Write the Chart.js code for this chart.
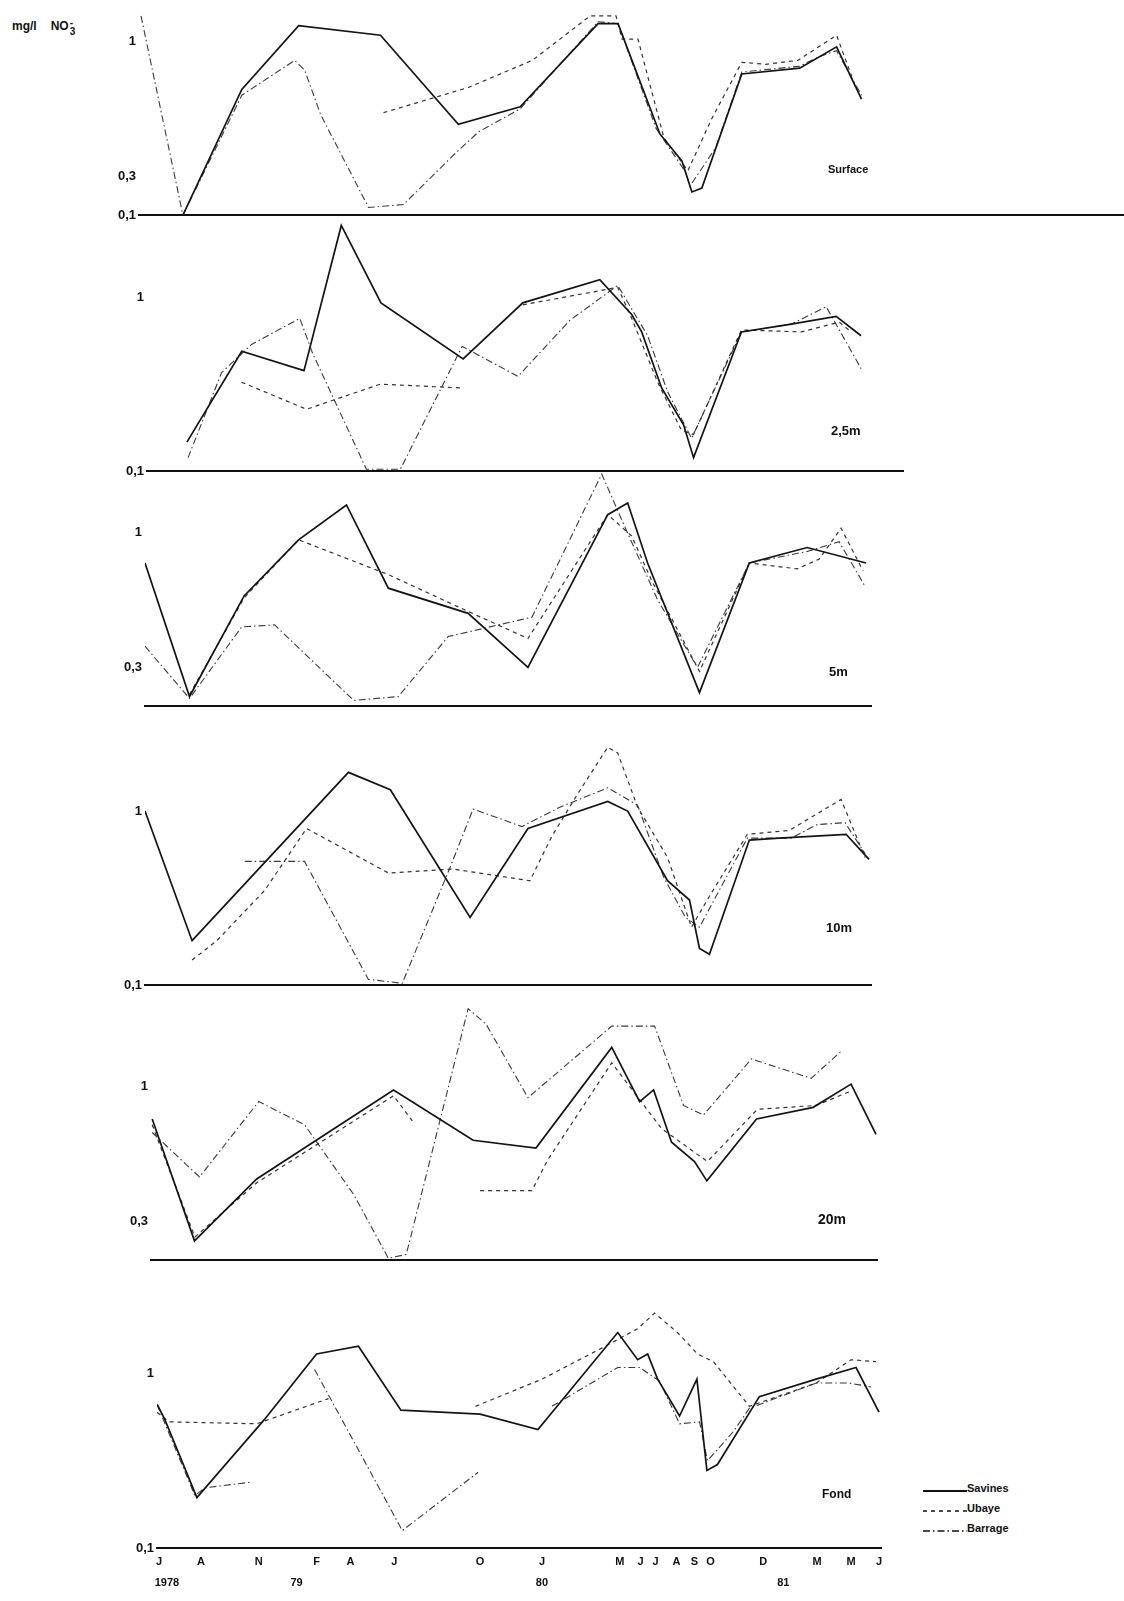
<!DOCTYPE html>
<html lang="fr">
<head>
  <meta charset="UTF-8">
  <title>Nitrates - Savines, Ubaye, Barrage</title>
  <script src="https://cdn.jsdelivr.net/npm/chart.js"></script>
  <style>
    body {
      margin: 0;
      width: 1124px;
      height: 1601px;
      position: relative;
      overflow: hidden;
      background: #ffffff;
      color: #111;
      font-family: "Liberation Sans", Arial, sans-serif;
    }

    canvas.panel {
      position: absolute;
    }

    .unit {
      position: absolute;
      left: 12px;
      top: 18px;
      font-size: 12px;
      font-weight: bold;
      white-space: nowrap;
    }

    .unit .no {
      margin-left: 14px;
    }

    .unit .ion {
      display: inline-flex;
      flex-direction: column;
      vertical-align: middle;
      font-size: 10px;
      line-height: 9px;
      margin-left: 1px;
    }

    .depth {
      position: absolute;
      font-weight: bold;
      white-space: nowrap;
    }

    .legend {
      position: absolute;
      left: 923px;
      top: 1478px;
      font-size: 11px;
      font-weight: bold;
    }

    .legend div {
      display: flex;
      align-items: center;
      height: 20px;
    }
  </style>
</head>
<body>
  <div class="unit">mg/l<span class="no">NO</span><span class="ion"><span>-</span><span>3</span></span></div>
  <div class="legend" id="legend"></div>

  <script>
    // NO3 (mg/l) per sampling date, x = months since January 1978
    const surfaceSavines = [[6.1, 0.10], [9.05, 0.75], [11.9, 1.08], [16.0, 1.03], [19.9, 0.57], [23.0, 0.66], [26.9, 1.09], [27.9, 1.09], [30.0, 0.52], [31.1, 0.38], [31.6, 0.22], [32.1, 0.24], [34.1, 0.83], [37.0, 0.86], [38.85, 0.97], [40.1, 0.70]];
    const surfaceUbaye = [[16.15, 0.63], [20.4, 0.76], [23.6, 0.90], [26.5, 1.13], [27.8, 1.13], [28.1, 1.01], [28.9, 1.01], [30.2, 0.50], [31.4, 0.33], [32.6, 0.60], [34.1, 0.89], [35.3, 0.88], [36.9, 0.90], [38.85, 1.03], [39.6, 0.82]];
    const surfaceBarrage = [[4.0, 1.13], [6.1, 0.10], [9.05, 0.72], [11.7, 0.90], [12.2, 0.85], [13.0, 0.62], [15.4, 0.14], [17.15, 0.155], [19.65, 0.41], [20.9, 0.53], [23.0, 0.65], [26.9, 1.10], [27.9, 1.09], [29.8, 0.55], [31.3, 0.32], [31.5, 0.25], [32.8, 0.45], [34.1, 0.84], [37.0, 0.87], [38.0, 0.92], [38.85, 0.95], [40.1, 0.72]];

    const m25Savines = [[6.3, 0.25], [9.05, 0.72], [12.17, 0.62], [14.04, 1.37], [16.03, 0.97], [20.15, 0.68], [23.14, 0.97], [27.0, 1.09], [28.6, 0.91], [29.1, 0.82], [30.1, 0.53], [31.2, 0.34], [31.7, 0.17], [34.1, 0.82], [36.6, 0.86], [38.85, 0.90], [40.1, 0.80]];
    const m25Ubaye = [[9.04, 0.56], [12.3, 0.42], [14.0, 0.48], [16.0, 0.55], [20.1, 0.53], [21.6, null], [23.14, 0.96], [27.9, 1.05], [28.6, 0.89], [29.9, 0.56], [31.1, 0.31], [31.7, 0.29], [34.1, 0.83], [37.1, 0.82], [39.0, 0.87], [39.6, 0.82]];
    const m25Barrage = [[6.36, 0.17], [8.04, 0.61], [9.54, 0.755], [11.96, 0.89], [12.6, 0.71], [15.3, 0.11], [17.0, 0.11], [20.1, 0.745], [22.9, 0.59], [25.5, 0.88], [27.9, 1.06], [29.4, 0.80], [30.4, 0.51], [31.6, 0.27], [34.1, 0.82], [36.6, 0.86], [38.35, 0.95], [40.1, 0.63]];

    const m5Savines = [[4.2, 0.84], [6.43, 0.15], [9.17, 0.67], [11.9, 0.96], [14.3, 1.14], [16.4, 0.71], [20.4, 0.58], [23.4, 0.30], [27.4, 1.09], [28.4, 1.15], [29.4, 0.84], [32.0, 0.17], [34.5, 0.84], [37.4, 0.92], [40.35, 0.84]];
    const m5Ubaye = [[6.43, 0.16], [9.17, 0.66], [11.9, 0.96], [16.4, 0.78], [20.4, 0.59], [23.4, 0.45], [27.4, 1.09], [28.6, 0.98], [29.6, 0.75], [32.0, 0.28], [34.5, 0.84], [36.9, 0.81], [38.0, 0.86], [39.1, 1.02], [40.2, 0.80]];
    const m5Barrage = [[4.2, 0.41], [6.43, 0.14], [9.05, 0.51], [10.7, 0.52], [14.66, 0.13], [16.9, 0.15], [19.4, 0.46], [23.6, 0.56], [27.1, 1.30], [28.2, 1.04], [29.9, 0.65], [31.9, 0.30], [34.5, 0.84], [37.4, 0.90], [39.0, 0.95], [40.3, 0.72]];

    const m10Savines = [[4.2, 1.00], [6.56, 0.33], [14.4, 1.20], [16.5, 1.11], [20.5, 0.45], [23.4, 0.91], [27.4, 1.05], [28.4, 1.00], [30.4, 0.64], [31.5, 0.54], [32.0, 0.29], [32.5, 0.26], [34.5, 0.85], [36.0, 0.86], [39.35, 0.88], [40.5, 0.75]];
    const m10Ubaye = [[6.56, 0.23], [7.8, 0.33], [10.2, 0.59], [12.3, 0.91], [16.4, 0.68], [19.65, 0.70], [23.5, 0.64], [24.6, 0.87], [25.9, 1.09], [27.4, 1.33], [27.9, 1.30], [28.9, 1.02], [30.4, 0.76], [31.6, 0.40], [32.5, 0.56], [34.4, 0.88], [36.5, 0.90], [39.1, 1.06], [40.3, 0.76]];
    const m10Barrage = [[9.2, 0.74], [12.2, 0.74], [15.4, 0.13], [17.1, 0.11], [19.5, 0.71], [20.65, 1.01], [23.1, 0.92], [25.0, 1.02], [27.4, 1.12], [28.9, 1.03], [30.2, 0.66], [31.3, 0.45], [32.0, 0.40], [34.4, 0.86], [36.6, 0.86], [37.9, 0.93], [39.3, 0.94], [40.3, 0.78]];

    const m20Savines = [[4.56, 0.83], [6.68, 0.20], [9.8, 0.52], [16.66, 0.98], [20.65, 0.72], [23.8, 0.68], [27.6, 1.20], [29.0, 0.92], [29.7, 0.98], [30.6, 0.71], [31.75, 0.61], [32.37, 0.51], [34.86, 0.83], [37.7, 0.89], [39.6, 1.01], [40.85, 0.75]];
    const m20Ubaye = [[4.56, 0.80], [6.7, 0.22], [9.8, 0.50], [16.66, 0.95], [17.6, 0.82], [19.3, null], [21.0, 0.46], [23.6, 0.46], [24.4, 0.62], [27.6, 1.12], [30.1, 0.78], [32.4, 0.61], [34.9, 0.88], [37.85, 0.90], [39.5, 0.97]];
    const m20Barrage = [[4.56, 0.76], [6.93, 0.53], [9.9, 0.92], [12.2, 0.80], [14.66, 0.44], [16.4, 0.11], [17.3, 0.13], [20.4, 1.40], [21.3, 1.32], [23.4, 0.94], [27.6, 1.31], [29.75, 1.31], [31.2, 0.90], [32.2, 0.85], [34.6, 1.14], [37.6, 1.04], [39.1, 1.18]];

    const fondSavines = [[4.81, 0.84], [5.2, 0.76], [6.8, 0.36], [10.17, 0.76], [12.8, 1.10], [14.9, 1.14], [17.03, 0.81], [21.0, 0.79], [23.9, 0.71], [27.9, 1.21], [28.9, 1.07], [29.4, 1.10], [29.9, 0.97], [31.0, 0.78], [31.87, 0.97], [32.37, 0.50], [32.9, 0.53], [35.0, 0.88], [37.85, 0.97], [39.85, 1.03], [41.0, 0.80]];
    const fondUbaye = [[4.8, 0.80], [5.4, 0.75], [9.8, 0.74], [13.4, 0.87], [17.0, null], [20.77, 0.83], [24.1, 0.97], [27.1, 1.13], [28.9, 1.23], [29.75, 1.31], [30.9, 1.21], [31.9, 1.10], [32.7, 1.06], [34.5, 0.83], [37.85, 0.95], [39.6, 1.07], [40.85, 1.06]];
    const fondBarrage = [[4.8, 0.84], [6.7, 0.37], [7.2, 0.41], [9.55, 0.44], [11.0, null], [12.7, 1.02], [17.1, 0.19], [20.9, 0.49], [22.7, null], [24.6, 0.83], [27.9, 1.03], [29.0, 1.03], [30.0, 0.96], [31.0, 0.74], [32.0, 0.75], [32.4, 0.55], [33.7, 0.70], [34.5, 0.82], [37.85, 0.95], [39.5, 0.95], [40.6, 0.93]];

    // month letters and years under the bottom panel
    const monthTickPos = [4.9, 7.0, 9.9, 12.8, 14.5, 16.7, 21.0, 24.1, 28.0, 29.05, 29.8, 30.85, 31.75, 32.55, 35.2, 37.9, 39.6, 41.0];
    const monthTickText = ['J', 'A', 'N', 'F', 'A', 'J', 'O', 'J', 'M', 'J', 'J', 'A', 'S', 'O', 'D', 'M', 'M', 'J'];
    const yearTickPos = [5.3, 11.8, 24.1, 36.2];
    const yearTickText = ['1978', '79', '80', '81'];

    const seriesNames = ['Savines', 'Ubaye', 'Barrage'];

    // layout: one month = 19.95 px, August 1978 sits at x = 201; 194 px per mg/l
    const PX_MONTH = 19.95;
    const PX_UNIT = 194;
    const Y_MIN = 0.1;
    const Y_MAX = 1.45;
    const AXIS_W = 60;
    const PAD_TOP = 12;
    const PAD_RIGHT = 14;

    const styles = [
      { borderColor: '#141414', borderWidth: 1.7, borderDash: [] },
      { borderColor: '#333333', borderWidth: 1.2, borderDash: [4, 4] },
      { borderColor: '#3a3a3a', borderWidth: 1.1, borderDash: [7, 3, 1.5, 3] },
    ];

    const panels = [
      { name: 'Surface', series: [surfaceSavines, surfaceUbaye, surfaceBarrage], baseline: 216, xMin: 3.9, xMax: 53.3, yTicks: [0.1, 0.3, 1], tag: [828, 163, 11] },
      { name: '2,5m', series: [m25Savines, m25Ubaye, m25Barrage], baseline: 472, xMin: 4.3, xMax: 42.2, yTicks: [0.1, 1], tag: [831, 423, 13] },
      { name: '5m', series: [m5Savines, m5Ubaye, m5Barrage], baseline: 707, xMin: 4.2, xMax: 40.6, yTicks: [0.3, 1], tag: [829, 664, 13] },
      { name: '10m', series: [m10Savines, m10Ubaye, m10Barrage], baseline: 986, xMin: 4.2, xMax: 40.6, yTicks: [0.1, 1], tag: [826, 920, 13] },
      { name: '20m', series: [m20Savines, m20Ubaye, m20Barrage], baseline: 1261, xMin: 4.5, xMax: 40.9, yTicks: [0.3, 1], tag: [818, 1211, 14] },
      { name: 'Fond', series: [fondSavines, fondUbaye, fondBarrage], baseline: 1548, xMin: 4.8, xMax: 41.1, yTicks: [0.1, 1], tag: [822, 1487, 12] },
    ];

    function toPoints(pairs) {
      return pairs.map(([x, y]) => ({ x, y }));
    }

    function yLabel(v) {
      return v === 1 ? '1' : String(v).replace('.', ',');
    }

    // combined tick list for the bottom axis (months, with years as a second line)
    function bottomTicks() {
      const map = new Map();
      monthTickPos.forEach((p, i) => map.set(p, [monthTickText[i], '']));
      yearTickPos.forEach((p, i) => {
        const cur = map.get(p) || ['', ''];
        cur[1] = yearTickText[i];
        map.set(p, cur);
      });
      return [...map.entries()].sort((a, b) => a[0] - b[0]);
    }

    const ticksBottom = bottomTicks();

    panels.forEach((panel, idx) => {
      const isLast = idx === panels.length - 1;
      const xAxisH = isLast ? 46 : 10;
      const areaW = (panel.xMax - panel.xMin) * PX_MONTH;
      const areaH = (Y_MAX - Y_MIN) * PX_UNIT;
      const areaLeft = 201 + (panel.xMin - 7) * PX_MONTH;

      const canvas = document.createElement('canvas');
      canvas.className = 'panel';
      canvas.width = Math.round(AXIS_W + areaW + PAD_RIGHT);
      canvas.height = Math.round(PAD_TOP + areaH + xAxisH);
      canvas.style.left = (areaLeft - AXIS_W) + 'px';
      canvas.style.top = (panel.baseline - areaH - PAD_TOP) + 'px';
      document.body.appendChild(canvas);

      new Chart(canvas, {
        type: 'line',
        data: {
          datasets: panel.series.map((s, i) => ({
            label: seriesNames[i],
            data: toPoints(s),
            borderColor: styles[i].borderColor,
            borderWidth: styles[i].borderWidth,
            borderDash: styles[i].borderDash,
            fill: false,
            spanGaps: false,
          })),
        },
        options: {
          responsive: false,
          animation: false,
          elements: {
            point: { radius: 0 },
            line: { tension: 0 },
          },
          layout: { padding: { top: PAD_TOP, right: PAD_RIGHT, left: 0, bottom: 0 } },
          plugins: {
            legend: { display: false },
            tooltip: { enabled: false },
          },
          scales: {
            x: {
              type: 'linear',
              min: panel.xMin,
              max: panel.xMax,
              grid: { display: false, drawTicks: false },
              border: { display: true, color: '#111', width: 2 },
              ticks: {
                display: isLast,
                autoSkip: false,
                maxRotation: 0,
                padding: 4,
                color: '#111',
                font: { size: 11, weight: 'bold', lineHeight: 1.9 },
                callback: (value) => {
                  const t = ticksBottom.find(e => Math.abs(e[0] - value) < 1e-6);
                  return t ? t[1] : '';
                },
              },
              afterBuildTicks: (scale) => {
                scale.ticks = isLast ? ticksBottom.map(e => ({ value: e[0] })) : [];
              },
              afterFit: (scale) => { scale.height = xAxisH; },
            },
            y: {
              type: 'linear',
              min: Y_MIN,
              max: Y_MAX,
              grid: { display: false, drawTicks: false },
              border: { display: false },
              ticks: {
                padding: 3,
                color: '#111',
                font: { size: 13, weight: 'bold' },
                callback: (value) => yLabel(value),
              },
              afterBuildTicks: (scale) => {
                scale.ticks = panel.yTicks.map(v => ({ value: v }));
              },
              afterFit: (scale) => { scale.width = AXIS_W; },
            },
          },
        },
      });

      const tag = document.createElement('div');
      tag.className = 'depth';
      tag.textContent = panel.name;
      tag.style.left = panel.tag[0] + 'px';
      tag.style.top = panel.tag[1] + 'px';
      tag.style.fontSize = panel.tag[2] + 'px';
      document.body.appendChild(tag);
    });

    // legend: line samples drawn as small SVGs with the series styles
    const legend = document.getElementById('legend');
    seriesNames.forEach((name, i) => {
      const row = document.createElement('div');
      const dash = styles[i].borderDash.join(' ');
      row.innerHTML =
        `<svg width="44" height="10"><line x1="0" y1="8" x2="44" y2="8" stroke="#111" ` +
        `stroke-width="${styles[i].borderWidth + 0.3}" stroke-dasharray="${dash}"/></svg>` +
        `<span>${name}</span>`;
      legend.appendChild(row);
    });
  </script>
</body>
</html>
